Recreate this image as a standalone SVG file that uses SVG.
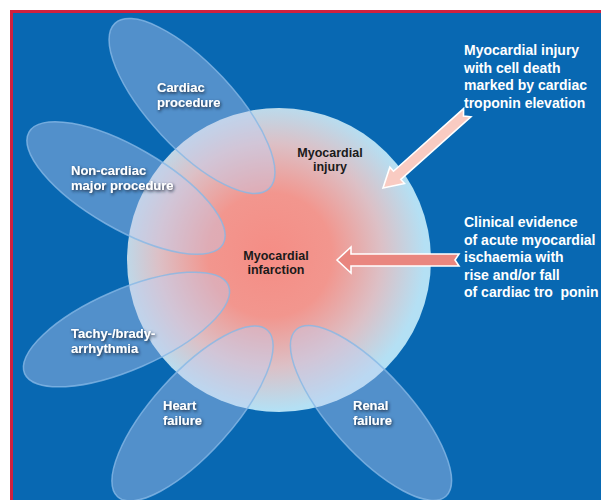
<svg xmlns="http://www.w3.org/2000/svg" width="601" height="500" viewBox="0 0 601 500">
<style>
.petal{fill:#C2CEF0;fill-opacity:0.4;stroke:#86B8E6;stroke-width:1.5;stroke-opacity:0.8}
.plabel{font-family:"Liberation Sans",Arial,sans-serif;font-weight:bold;font-size:13px;fill:#FFFFFF;filter:url(#shadow)}
.clabel{font-family:"Liberation Sans",Arial,sans-serif;font-weight:bold;font-size:12.5px;fill:#1A1A1A;text-anchor:middle}
.rlabel{font-family:"Liberation Sans",Arial,sans-serif;font-weight:bold;font-size:14px;fill:#FFFFFF}
.arrow{stroke:#FFFFFF;stroke-width:1.6;stroke-linejoin:miter}
</style>
<defs>
<radialGradient id="circGrad" cx="270" cy="255" r="155" gradientUnits="userSpaceOnUse">
<stop offset="0" stop-color="#F58D85"/>
<stop offset="0.4" stop-color="#F2968E"/>
<stop offset="0.72" stop-color="#DCC0C6"/>
<stop offset="1" stop-color="#B4E0F4"/>
</radialGradient>
<filter id="shadow" x="-20%" y="-40%" width="140%" height="180%">
<feDropShadow dx="1" dy="1.5" stdDeviation="1.6" flood-color="#152038" flood-opacity="0.95"/>
</filter>
</defs>
<rect x="10" y="10" width="591" height="490" fill="#D0213F"/>
<rect x="13" y="13" width="588" height="487" fill="#0868B2"/>
<g id="circle">
<circle cx="279" cy="260" r="152" fill="url(#circGrad)"/>
</g>
<g id="petal-cardiac">
<ellipse class="petal" cx="192" cy="106" rx="113" ry="42" transform="rotate(47 192 106)"/>
<text class="plabel" x="157" y="92">Cardiac</text>
<text class="plabel" x="157" y="106.5">procedure</text>
</g>
<g id="petal-noncardiac">
<ellipse class="petal" cx="126" cy="188" rx="112" ry="41" transform="rotate(30 126 188)"/>
<text class="plabel" x="71" y="175">Non-cardiac</text>
<text class="plabel" x="71" y="190">major procedure</text>
</g>
<g id="petal-tachy">
<ellipse class="petal" cx="126.5" cy="329.5" rx="111" ry="40" transform="rotate(-23.4 126.5 329.5)"/>
<text class="plabel" x="71" y="338">Tachy-/brady-</text>
<text class="plabel" x="71" y="352.5">arrhythmia</text>
</g>
<g id="petal-heart">
<ellipse class="petal" cx="192.5" cy="413.5" rx="112" ry="40" transform="rotate(-48 192.5 413.5)"/>
<text class="plabel" x="163" y="410">Heart</text>
<text class="plabel" x="163" y="424.5">failure</text>
</g>
<g id="petal-renal">
<ellipse class="petal" cx="371" cy="413" rx="112" ry="40" transform="rotate(48 371 413)"/>
<text class="plabel" x="353" y="410">Renal</text>
<text class="plabel" x="353" y="424.5">failure</text>
</g>
<g id="label-injury">
<text class="clabel" x="330" y="157">Myocardial</text>
<text class="clabel" x="330" y="171">injury</text>
</g>
<g id="label-infarction">
<text class="clabel" x="276" y="260">Myocardial</text>
<text class="clabel" x="276" y="274">infarction</text>
</g>
<g id="connectors">
<path class="arrow" fill="#F9CBC2" d="M0,0 L19,-11 L19,-5.5 L113,-5.5 L108,0 L113,5.5 L19,5.5 L19,11 Z" transform="translate(383 188) rotate(-41.8)"/>
<path class="arrow" fill="#E9867F" d="M337,260 L351,247 L351,254 L459,254 L455,260 L459,266 L351,266 L351,273 Z"/>
</g>
<g id="text-injury">
<text class="rlabel" x="464" y="55">Myocardial injury</text>
<text class="rlabel" x="464" y="72.5">with cell death</text>
<text class="rlabel" x="464" y="90">marked by cardiac</text>
<text class="rlabel" x="464" y="107.5">troponin elevation</text>
</g>
<g id="text-infarction">
<text class="rlabel" x="464" y="227">Clinical evidence</text>
<text class="rlabel" x="464" y="244.5">of acute myocardial</text>
<text class="rlabel" x="464" y="262">ischaemia with</text>
<text class="rlabel" x="464" y="279.5">rise and/or fall</text>
<text class="rlabel" x="464" y="297" xml:space="preserve">of cardiac tro  ponin</text>
</g>
</svg>
